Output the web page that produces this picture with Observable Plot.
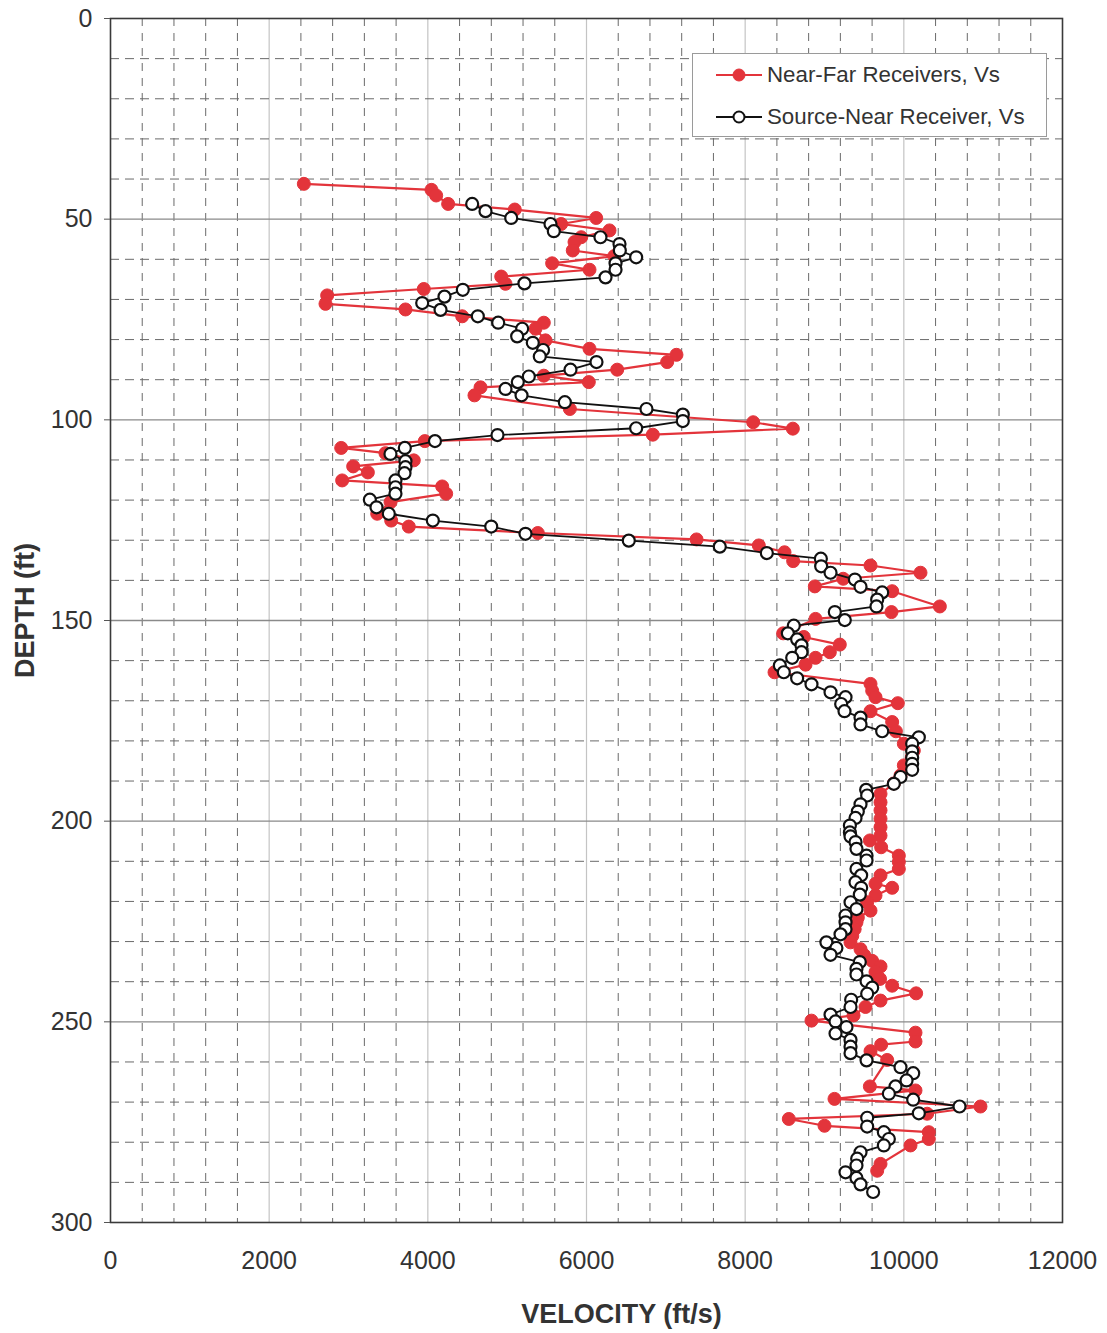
<!DOCTYPE html>
<html>
<head>
<meta charset="utf-8">
<script src="https://cdn.jsdelivr.net/npm/d3@7"></script>
<script src="https://cdn.jsdelivr.net/npm/@observablehq/plot@0.6"></script>
<style>
  html, body { margin: 0; padding: 0; background: #fff; }
  #chart { position: relative; width: 1107px; height: 1333px; }
  #legend {
    position: absolute; left: 692px; top: 53px; width: 355px; height: 84px;
    border: 1px solid #9a9a9a; background: #fff; box-sizing: border-box;
    font-family: "Liberation Sans", Arial, sans-serif; font-size: 22.3px; color: #333;
  }
  #legend .row { position: absolute; left: 22px; display: flex; align-items: center; }
  #legend svg { margin-right: 4px; }
</style>
</head>
<body>
<div id="chart"></div>
<script>
// Near-Far receiver interval shear velocities (depth ft, velocity ft/s)
const nearFarDepth = [
  41.2, 42.7, 44.1, 46.2, 47.6, 49.7, 51.2, 52.8, 54.5, 55.7, 57.8, 59.2, 61.0, 62.6,
  64.3, 66.1, 67.4, 69.0, 71.1, 72.5, 74.2, 75.8, 77.3, 80.2, 82.3, 83.8, 85.6, 87.5,
  89.0, 90.6, 91.9, 93.9, 97.3, 100.6, 102.2, 103.7, 105.3, 107.0, 108.3, 110.1, 111.6,
  113.1, 115.1, 116.6, 118.4, 120.5, 123.4, 125.1, 126.6, 128.2, 129.8, 131.3, 133.0,
  135.2, 136.3, 138.1, 139.6, 141.5, 142.7, 146.5, 147.9, 149.6, 153.2, 154.1, 156.0,
  157.9, 159.3, 161.0, 162.9, 165.8, 167.5, 169.1, 170.6, 172.6, 175.3, 177.6, 180.7,
  182.4, 184.1, 186.1, 188.6, 190.6, 193.2, 195.3, 197.3, 199.4, 201.5, 203.6, 204.8,
  206.5, 208.6, 210.2, 211.9, 213.5, 215.6, 216.6, 218.5, 220.2, 222.3, 224.0, 225.2,
  226.9, 228.6, 230.2, 231.9, 233.4, 234.8, 236.2, 237.6, 239.3, 241.0, 242.9, 244.7,
  246.3, 248.4, 249.7, 252.7, 254.9, 255.7, 257.3, 259.5, 266.1, 267.1, 269.2, 271.1,
  272.9, 274.2, 275.9, 277.5, 279.2, 280.8, 285.4, 287.1
];
const nearFarVelocity = [
  2437, 4046, 4105, 4256, 5096, 6122, 5681, 6290, 5933, 5849, 5827, 6350, 5567, 6038,
  4925, 4979, 3949, 2731, 2710, 3718, 4433, 5462, 5357, 5483, 6038, 7134, 7017, 6387,
  5462, 6029, 4664, 4588, 5790, 8101, 8601, 6836, 3962, 2908, 3466, 3823, 3059,
  3244, 2920, 4181, 4231, 3530, 3362, 3538, 3760, 5386, 7387, 8172, 8496,
  8605, 9580, 10210, 9236, 8878, 9853, 10454, 9844, 8887, 8479, 8739, 9193,
  9067, 8887, 8761, 8370, 9580, 9601, 9643, 9924, 9580, 9853, 9900, 10000,
  10126, 10100, 10000, 9958, 9874, 9706, 9706, 9706, 9706, 9706, 9706, 9572,
  9714, 9937, 9937, 9937, 9706, 9643, 9853, 9643, 9538, 9580, 9420, 9403,
  9380, 9350, 9328, 9454, 9500, 9601, 9706, 9643, 9700, 9853, 10155, 9706,
  9517, 9366, 8836, 10147, 10147, 9714, 9580, 9790, 9572, 10147, 9126, 10966,
  10294, 8550, 9000, 10315, 10315, 10084, 9706, 9664
];

// Source-Near receiver interval shear velocities (depth ft, velocity ft/s)
const sourceNearDepth = [
  46.2, 48.0, 49.7, 51.2, 53.0, 54.5, 56.2, 57.8, 59.5, 61.0, 62.6, 64.5, 66.0, 67.6,
  69.3, 70.9, 72.6, 74.2, 75.8, 77.3, 79.2, 80.8, 82.6, 84.2, 85.6, 87.5, 89.2, 90.6,
  92.3, 93.9, 95.6, 97.3, 98.7, 100.3, 102.1, 103.8, 105.3, 107.0, 108.5, 110.3, 111.8,
  113.3, 115.1, 116.8, 118.4, 119.9, 121.8, 123.4, 125.1, 126.6, 128.4, 130.1, 131.6,
  133.2, 134.6, 136.5, 138.1, 139.8, 141.6, 143.0, 144.8, 146.5, 147.9, 149.9, 151.3,
  153.2, 154.7, 156.2, 157.9, 159.3, 161.2, 162.9, 164.4, 165.9, 167.9, 169.1, 170.8,
  172.6, 174.2, 175.9, 177.6, 179.1, 180.7, 182.6, 184.2, 185.7, 187.2, 189.0, 190.7,
  192.2, 193.6, 195.8, 197.6, 199.2, 201.1, 202.8, 203.8, 205.2, 206.9, 208.6, 209.8,
  211.9, 213.5, 215.2, 216.6, 218.3, 220.2, 221.9, 223.5, 225.2, 226.9, 228.2, 230.2,
  231.6, 233.3, 235.1, 236.8, 238.2, 239.9, 241.5, 243.0, 244.5, 246.3, 248.2, 249.9,
  251.3, 252.9, 254.5, 256.2, 257.8, 259.6, 261.3, 262.8, 264.6, 266.1, 267.9, 269.4,
  271.1, 272.8, 273.9, 276.1, 277.5, 279.2, 280.8, 282.5, 284.1, 285.8, 287.5, 288.9,
  290.5, 292.4
];
const sourceNearVelocity = [
  4559, 4727, 5051, 5546, 5588, 6176, 6416, 6420, 6626, 6366, 6366, 6240, 5218, 4441,
  4210, 3929, 4160, 4630, 4887, 5189, 5126, 5323, 5453, 5411, 6126, 5798, 5273, 5134,
  4979, 5181, 5727, 6756, 7214, 7214, 6626, 4878, 4090, 3710, 3529, 3718, 3718,
  3706, 3592, 3592, 3592, 3269, 3353, 3508, 4063, 4799, 5231, 6533, 7680,
  8273, 8954, 8958, 9076, 9383, 9454, 9727, 9664, 9655, 9130, 9256, 8613,
  8538, 8655, 8710, 8710, 8593, 8437, 8487, 8655, 8836, 9076, 9265, 9210,
  9252, 9454, 9454, 9727, 10189, 10105, 10105, 10105, 10105, 10105, 9958, 9874,
  9525, 9538, 9454, 9420, 9391, 9320, 9320, 9328, 9391, 9403, 9530, 9530,
  9403, 9462, 9391, 9462, 9445, 9328, 9403, 9265, 9265, 9265, 9202, 9024,
  9150, 9076, 9445, 9403, 9403, 9530, 9601, 9538, 9336, 9328, 9076, 9139,
  9277, 9139, 9328, 9328, 9328, 9530, 9958, 10118, 10034, 9895, 9811, 10118,
  10702, 10189, 9538, 9538, 9748, 9811, 9748, 9454, 9412, 9403, 9265, 9403,
  9454, 9613
];

// Axis ticks and labels
const velocityTicks = [0, 2000, 4000, 6000, 8000, 10000, 12000];
const depthTicks = [0, 50, 100, 150, 200, 250, 300];
const seriesNames = ["Near-Far Receivers, Vs", "Source-Near Receiver, Vs"];
const xTitle = "VELOCITY (ft/s)";
const yTitle = "DEPTH (ft)";

const RED = "#e3343b";
const DARK = "#111";

const nearFar = nearFarDepth.map((d, i) => ({depth: d, velocity: nearFarVelocity[i]}));
const sourceNear = sourceNearDepth.map((d, i) => ({depth: d, velocity: sourceNearVelocity[i]}));

// Fine grid every 400 ft/s and every 10 ft; heavier lines on the labelled values
const fineX = d3.range(400, 12000, 400).filter(v => v % 2000 !== 0);
const coarseX = velocityTicks.slice(1, -1);
const fineY = d3.range(10, 300, 10).filter(v => v % 50 !== 0);
const coarseY = depthTicks.slice(1, -1);

const titleFont = '"Liberation Sans", Arial, sans-serif';

const chart = Plot.plot({
  width: 1107,
  height: 1333,
  marginLeft: 110,
  marginRight: 45,
  marginTop: 18,
  marginBottom: 111,
  style: {fontFamily: '"Liberation Sans", Arial, sans-serif', color: "#333", background: "#fff"},
  x: {domain: [0, 12000]},
  y: {domain: [0, 300], reverse: true},
  marks: [
    Plot.ruleX(fineX, {stroke: "#6a6a6a", strokeWidth: 1, strokeDasharray: "8,7"}),
    Plot.ruleX(coarseX, {stroke: "#c4c4c4", strokeWidth: 1.2}),
    Plot.ruleY(fineY, {stroke: "#6a6a6a", strokeWidth: 1, strokeDasharray: "9,6"}),
    Plot.ruleY(coarseY, {stroke: "#8a8a8a", strokeWidth: 1.4}),
    Plot.frame({stroke: "#3a3a3a", strokeWidth: 1.6}),
    Plot.axisX({ticks: velocityTicks, tickSize: 0, tickPadding: 29, fontSize: 25, label: null, tickFormat: d => String(d)}),
    Plot.axisY({ticks: depthTicks, tickSize: 6, tickPadding: 12, fontSize: 25, label: null, stroke: "#555"}),
    Plot.line(nearFar, {x: "velocity", y: "depth", stroke: RED, strokeWidth: 2.2}),
    Plot.dot(nearFar, {x: "velocity", y: "depth", r: 6.5, fill: RED, stroke: RED, strokeWidth: 1}),
    Plot.line(sourceNear, {x: "velocity", y: "depth", stroke: DARK, strokeWidth: 1.8}),
    Plot.dot(sourceNear, {x: "velocity", y: "depth", r: 6, fill: "#fff", stroke: DARK, strokeWidth: 2.2}),
    Plot.text([xTitle], {text: d => d, frameAnchor: "bottom", textAnchor: "middle", lineAnchor: "middle", dx: 35, dy: 92, fontSize: 27, fontWeight: "bold", fontFamily: titleFont, fill: "#333"}),
    Plot.text([yTitle], {text: d => d, frameAnchor: "left", textAnchor: "middle", lineAnchor: "middle", dx: -85, dy: -10, rotate: -90, fontSize: 27, fontWeight: "bold", fontFamily: titleFont, fill: "#333"})
  ]
});

const host = document.getElementById("chart");
host.appendChild(chart);

// Legend box in the upper right of the plot
const legend = document.createElement("div");
legend.id = "legend";
const swatch = (i) => {
  const filled = i === 0;
  const color = filled ? RED : DARK;
  return `<svg width="48" height="16" viewBox="0 0 48 16">
    <line x1="1" y1="8" x2="47" y2="8" stroke="${color}" stroke-width="${filled ? 2.2 : 1.8}"/>
    <circle cx="24" cy="8" r="${filled ? 6 : 5.5}" fill="${filled ? RED : "#fff"}" stroke="${color}" stroke-width="${filled ? 1 : 2}"/>
  </svg>`;
};
legend.innerHTML = seriesNames.map((name, i) =>
  `<div class="row" style="top:${i === 0 ? 8 : 50}px">${swatch(i)}<span>${name}</span></div>`
).join("");
host.appendChild(legend);
</script>
</body>
</html>
